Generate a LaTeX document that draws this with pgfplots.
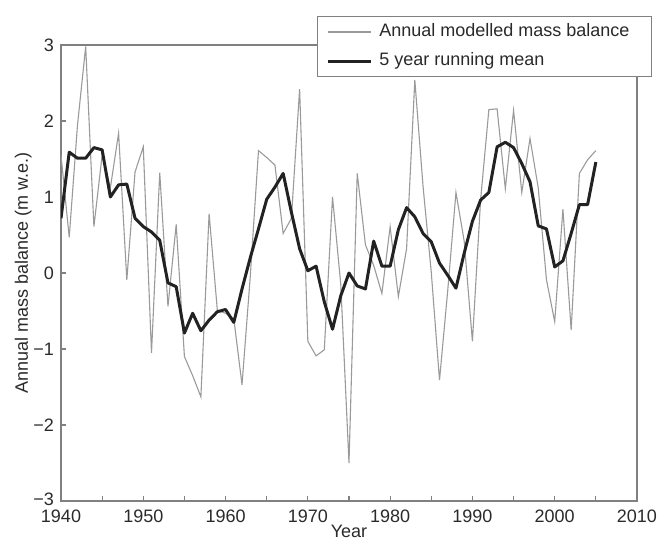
\documentclass[border=0pt]{standalone}
\usepackage{fontspec}
\setmainfont{Liberation Sans}
\usepackage{pgfplots}
\usepackage{pgfplotstable}
\pgfplotsset{compat=1.18}
\definecolor{axgray}{HTML}{808080}
\definecolor{thinc}{HTML}{9A9A9A}
\definecolor{thickc}{HTML}{222222}
\definecolor{txt}{HTML}{2A2A2A}
\newcommand\fs{\fontsize{9pt}{10.8pt}\selectfont}

\pgfplotstableread{
year mb
1940 1.55
1941 0.47
1942 1.94
1943 2.98
1944 0.61
1945 1.55
1946 1.12
1947 1.84
1948 -0.09
1949 1.33
1950 1.66
1951 -1.05
1952 1.32
1953 -0.44
1954 0.64
1955 -1.10
1956 -1.35
1957 -1.63
1958 0.78
1959 -0.49
1960 -0.53
1961 -0.60
1962 -1.47
1963 -0.05
1964 1.61
1965 1.52
1966 1.42
1967 0.52
1968 0.72
1969 2.42
1970 -0.90
1971 -1.09
1972 -1.01
1973 1.00
1974 -0.15
1975 -2.50
1976 1.31
1977 0.37
1978 0.10
1979 -0.27
1980 0.61
1981 -0.31
1982 0.32
1983 2.54
1984 1.14
1985 0.01
1986 -1.41
1987 -0.23
1988 1.06
1989 0.42
1990 -0.90
1991 0.97
1992 2.15
1993 2.16
1994 1.11
1995 2.14
1996 1.06
1997 1.77
1998 1.12
1999 -0.09
2000 -0.64
2001 0.84
2002 -0.75
2003 1.31
2004 1.49
2005 1.61
}\annual

\pgfplotstableread{
year rm
1940 0.72
1941 1.59
1942 1.51
1943 1.51
1944 1.65
1945 1.62
1946 1.00
1947 1.16
1948 1.17
1949 0.72
1950 0.61
1951 0.54
1952 0.43
1953 -0.13
1954 -0.18
1955 -0.79
1956 -0.53
1957 -0.76
1958 -0.62
1959 -0.51
1960 -0.48
1961 -0.65
1962 -0.21
1963 0.20
1964 0.58
1965 0.97
1966 1.13
1967 1.31
1968 0.80
1969 0.32
1970 0.03
1971 0.09
1972 -0.38
1973 -0.74
1974 -0.30
1975 0.00
1976 -0.17
1977 -0.21
1978 0.42
1979 0.09
1980 0.09
1981 0.57
1982 0.86
1983 0.74
1984 0.52
1985 0.41
1986 0.13
1987 -0.03
1988 -0.20
1989 0.26
1990 0.68
1991 0.96
1992 1.06
1993 1.66
1994 1.72
1995 1.65
1996 1.44
1997 1.20
1998 0.62
1999 0.58
2000 0.08
2001 0.16
2002 0.52
2003 0.90
2004 0.90
2005 1.46
}\runmean

\begin{document}
\begin{tikzpicture}
\begin{axis}[
  at={(0,0)}, anchor=south west,
  scale only axis, width=288pt, height=228pt,
  xmin=1940, xmax=2010, ymin=-3, ymax=3,
  xtick={1940,1950,1960,1970,1980,1990,2000,2010},
  xticklabels={1940,1950,1960,1970,1980,1990,2000,2010},
  minor xtick={1945,1955,1965,1975,1985,1995,2005},
  ytick={-3,-2,-1,0,1,2,3},
  yticklabels={\raisebox{1.5pt}{−3},−2,−1,0,1,2,3},
  tick pos=left, tick align=inside,
  major tick length=2.5pt, minor tick length=2.5pt,
  axis line style={axgray, line width=0.6pt},
  every tick/.style={axgray, line width=0.6pt},
  ticklabel style={font=\fs, text=txt},
  label style={font=\fs, text=txt},
  xlabel={Year}, ylabel={Annual mass balance (m w.e.)},
  xticklabel style={yshift=-0.8pt},
  xlabel style={yshift=5.5pt},
  ylabel style={yshift=-6pt},
  legend style={at={(1.026,1.0636)}, anchor=north east,
    draw=axgray, line width=0.5pt, fill=white, font=\fs, text=txt,
    inner xsep=4.5pt, inner ysep=3.5pt, row sep=6pt, column sep=3.5pt,
    nodes={inner sep=0pt, text height=6.6pt, text depth=1.9pt}},
  legend cell align=left,
  legend image code/.code={\draw[#1] (0pt,0pt) -- (21.5pt,0pt);},
]
\addplot[thinc, line width=0.55pt] table[x=year, y=mb] {\annual};
\addlegendentry{Annual modelled mass balance\hspace*{6.5pt}}
\addplot[thickc, line width=1.5pt, line join=round] table[x=year, y=rm] {\runmean};
\addlegendentry{5 year running mean}
\end{axis}
\pgfresetboundingbox
\path[use as bounding box] (-30.5pt,-19.5pt) rectangle (299.5pt,250.5pt);
\end{tikzpicture}
\end{document}
